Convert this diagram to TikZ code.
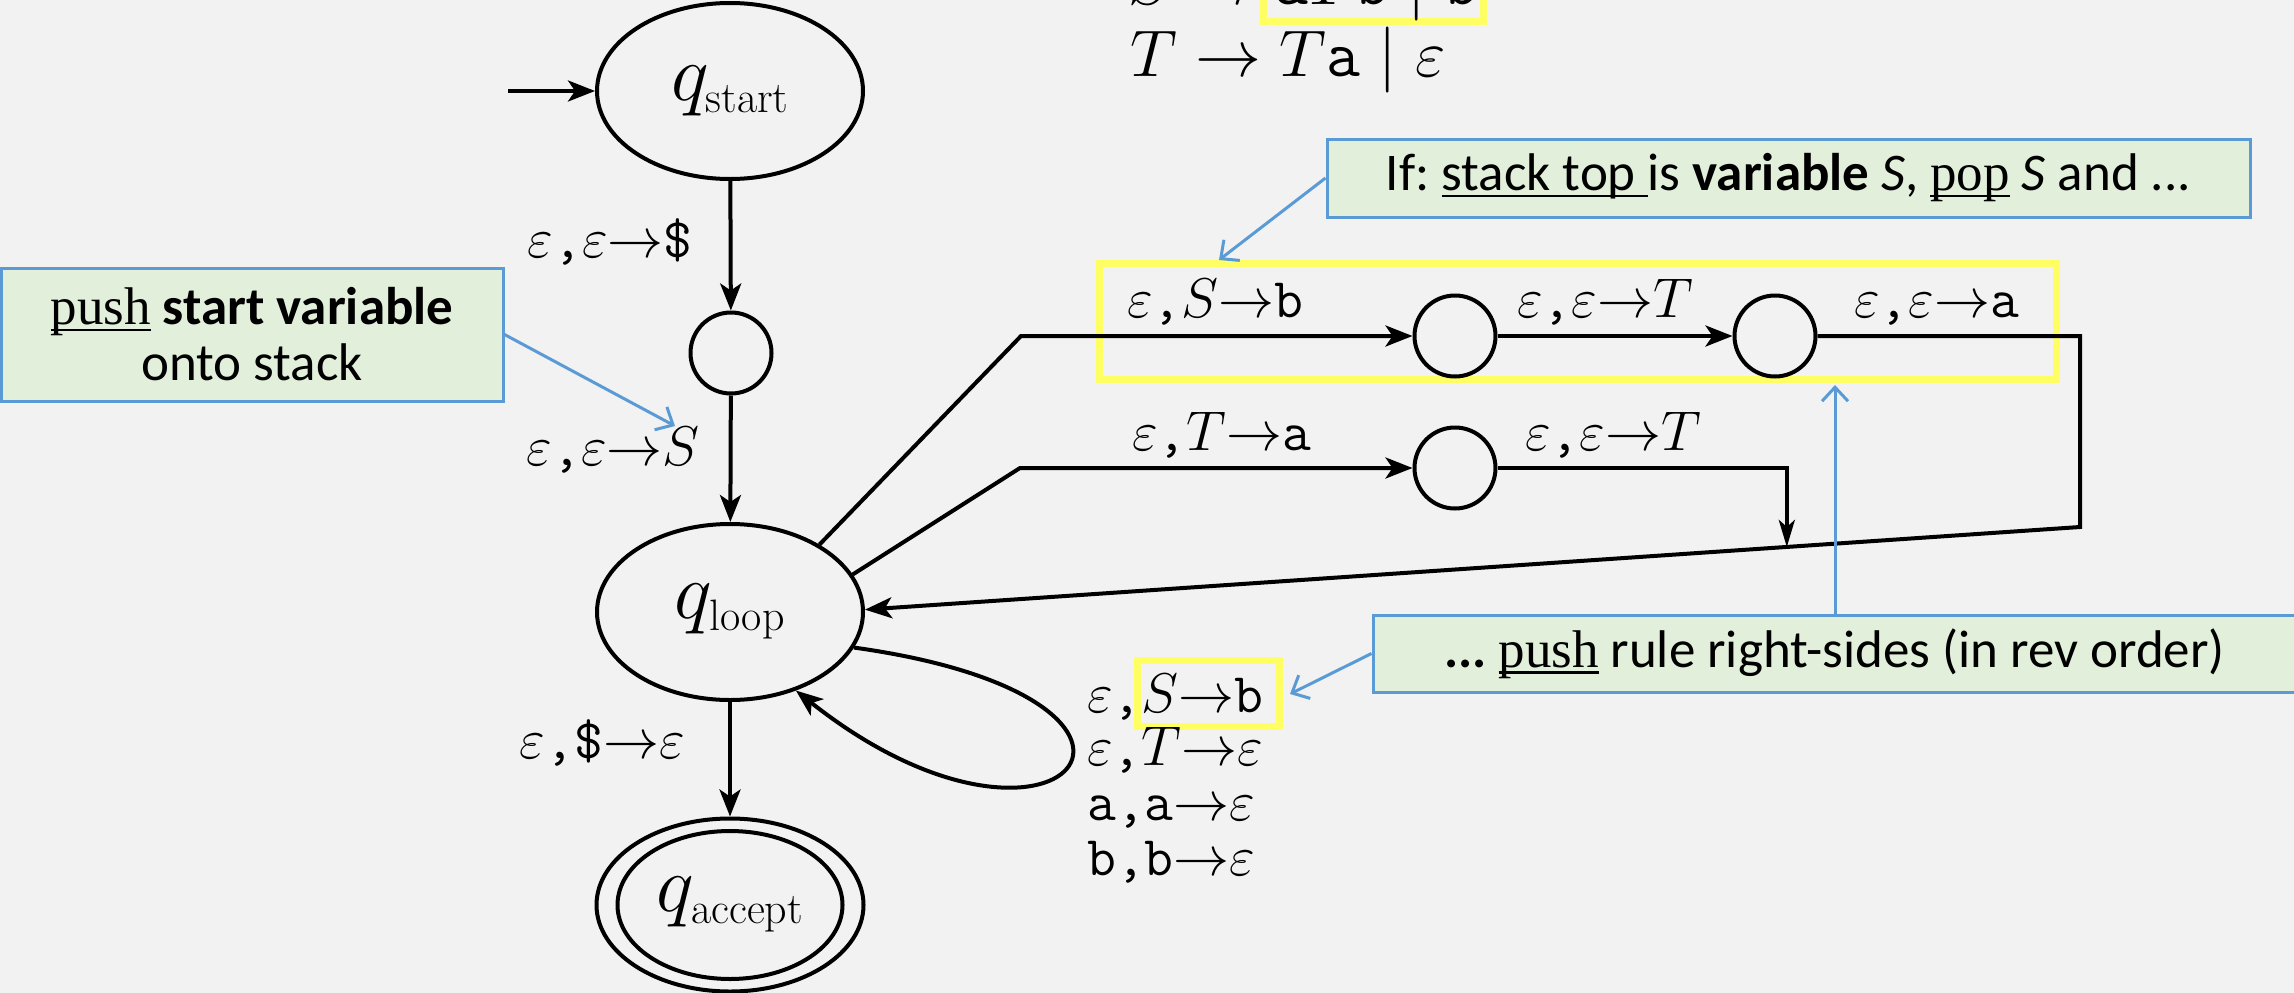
\RequirePackage{fix-cm}
\documentclass[tikz,border=0pt]{standalone}
\usepackage{fontspec}
\usetikzlibrary{shapes.geometric,arrows.meta,calc}
\newfontfamily\calfont{Carlito}
\newfontfamily\serfont{Liberation Serif}
\definecolor{bgc}{RGB}{242,242,242}
\definecolor{hl}{RGB}{255,255,100}
\definecolor{bluec}{RGB}{91,155,213}
\definecolor{greenc}{RGB}{226,239,218}
\frenchspacing
\newcommand\myul[1]{\leavevmode\setbox0=\hbox{#1}\rlap{\rule[-0.12em]{\wd0}{0.05em}}\box0\relax}
\tikzset{
  st/.style={draw, ellipse, line width=4pt, minimum width=266pt, minimum height=176pt, inner sep=0pt, font=\fontsize{80}{84}\selectfont},
  sm/.style={draw, circle, line width=4pt, minimum size=81pt, inner sep=0pt},
  arr/.style={line width=4pt, -{Stealth[length=27pt,width=21pt,inset=7pt]}},
  arrs/.style={line width=4pt, -{Stealth[length=27pt,width=16pt,inset=7pt]}},
  lbl/.style={inner sep=0pt, font=\fontsize{56}{60}\selectfont},
  gram/.style={inner sep=0pt, anchor=base west, font=\fontsize{66}{70}\selectfont},
  yb/.style={draw=hl, line width=7pt},
  callout/.style={draw=bluec, fill=greenc, line width=3pt, inner sep=0pt, font=\calfont\fontsize{53}{56}\selectfont, align=center},
  ptr/.style={draw=bluec, line width=3pt, -{Straight Barb[length=14pt,width=26pt]}},
}
\newcommand\sub[1]{\mbox{\fontsize{44}{46}\selectfont #1}}
\begin{document}
\begin{tikzpicture}[x=1pt,y=-1pt]
\useasboundingbox (0,0) rectangle (2294,993);
\clip (0,0) rectangle (2294,993);
\fill[bgc] (0,0) rectangle (2294,993);

% grammar
\draw[yb] (1263.5,-60) rectangle (1483.5,21.5);
\node[gram] (g1) at (1128,5) {$S \rightarrow \texttt{a}T\texttt{b} \mid \texttt{b}$};
\node[gram] (g2) at (1130,76) {$T \rightarrow T\texttt{a} \mid \varepsilon$};

% highlight boxes
\draw[yb] (1099.5,263.5) rectangle (2056.5,379.5);
\draw[yb] (1137.5,660.5) rectangle (1279.5,726.5);

% states
\node[st] (qs) at (730,91) {$q_{\sub{start}}$};
\node[sm] (c1) at (731,353) {};
\node[st] (ql) at (730,612) {$q_{\sub{loop}}$};
\node[st, minimum width=267pt, minimum height=173pt] (qa) at (730,905) {};
\node[st, minimum width=225pt, minimum height=148pt] (qai) at (730,905) {$q_{\sub{accept}}$};
\node[sm] (c2) at (1455,336) {};
\node[sm] (c3) at (1775,336) {};
\node[sm] (c4) at (1455,468) {};

\coordinate (e0) at (508,91);
\coordinate (u1) at (1021,336);
\coordinate (r1) at (2080,336);
\coordinate (r2) at (2080,527);
\coordinate (l1) at (1020,468);
\coordinate (m) at ($(r2)!0.2413!(ql.1)$);

% transitions
\draw[arr] (e0) -- (qs);
\draw[arr] (qs) -- (c1);
\draw[arr] (c1) -- (ql);
\draw[arr] (ql) -- (qa);
\draw[arr] (ql.37) -- (u1) -- (c2);
\draw[arr] (c2) -- (c3);
\draw[arr] (c3) -- (r1) -- (r2) -- (ql.1);
\draw[arr] (ql.17) -- (l1) -- (c4);
\draw[arrs] (c4) -| (m);
\draw[arr] (ql.-16) .. controls (1230,700) and (1060,900) .. (ql.-50);

% labels
\node[lbl, anchor=base east] (lb1) at (693,257) {$\varepsilon$\texttt{,}$\varepsilon\mathord{\rightarrow}$\texttt{\$}};
\node[lbl, anchor=base east] (lb2) at (700,465) {$\varepsilon$\texttt{,}$\varepsilon\mathord{\rightarrow}S$};
\node[lbl, anchor=base east] (lb3) at (685,758) {$\varepsilon$\texttt{,\$}$\mathord{\rightarrow}\varepsilon$};
\node[lbl, anchor=base west] (lb4) at (1127,317) {$\varepsilon$\texttt{,}$S\mathord{\rightarrow}$\texttt{b}};
\node[lbl, anchor=base west] (lb5) at (1517,317) {$\varepsilon$\texttt{,}$\varepsilon\mathord{\rightarrow}T$};
\node[lbl, anchor=base west] (lb6) at (1854,317) {$\varepsilon$\texttt{,}$\varepsilon\mathord{\rightarrow}$\texttt{a}};
\node[lbl, anchor=base west] (lb7) at (1132,450) {$\varepsilon$\texttt{,}$T\mathord{\rightarrow}$\texttt{a}};
\node[lbl, anchor=base west] (lb8) at (1525,450) {$\varepsilon$\texttt{,}$\varepsilon\mathord{\rightarrow}T$};
\node[lbl, anchor=base west] (lp1) at (1087,712) {$\varepsilon$\texttt{,}$S\mathord{\rightarrow}$\texttt{b}};
\node[lbl, anchor=base west] (lp2) at (1087,765) {$\varepsilon$\texttt{,}$T\mathord{\rightarrow}\varepsilon$};
\node[lbl, anchor=base west] (lp3) at (1087,820) {\texttt{a,a}$\mathord{\rightarrow}\varepsilon$};
\node[lbl, anchor=base west] (lp4) at (1087,875) {\texttt{b,b}$\mathord{\rightarrow}\varepsilon$};

% callouts
\node[callout, minimum width=502pt, minimum height=133pt] (cb1) at (252,334.5)
  {\myul{\serfont push} \textbf{start variable}\\onto stack};
\node[callout, minimum width=923pt, minimum height=78pt] (cb2) at (1788.5,178)
  {If: \myul{stack top }is \textbf{variable} \textit{S}, \myul{\serfont pop} \textit{S} and ...};
\node[callout, minimum width=923pt, minimum height=77pt] (cb3) at (1834.5,653.5)
  {\textbf{...} \myul{\serfont push} rule right-sides (in rev order)};

\coordinate (t1) at (675,426);
\coordinate (t2) at (1219,260);
\coordinate (t3) at (1290,694);
\coordinate (t4) at (1835,385);
\draw[ptr] (cb1.east) -- (t1);
\draw[ptr] (cb2.west) -- (t2);
\draw[ptr] (cb3.west) -- (t3);
\draw[ptr] (cb3.north -| t4) -- (t4);
\end{tikzpicture}
\end{document}
